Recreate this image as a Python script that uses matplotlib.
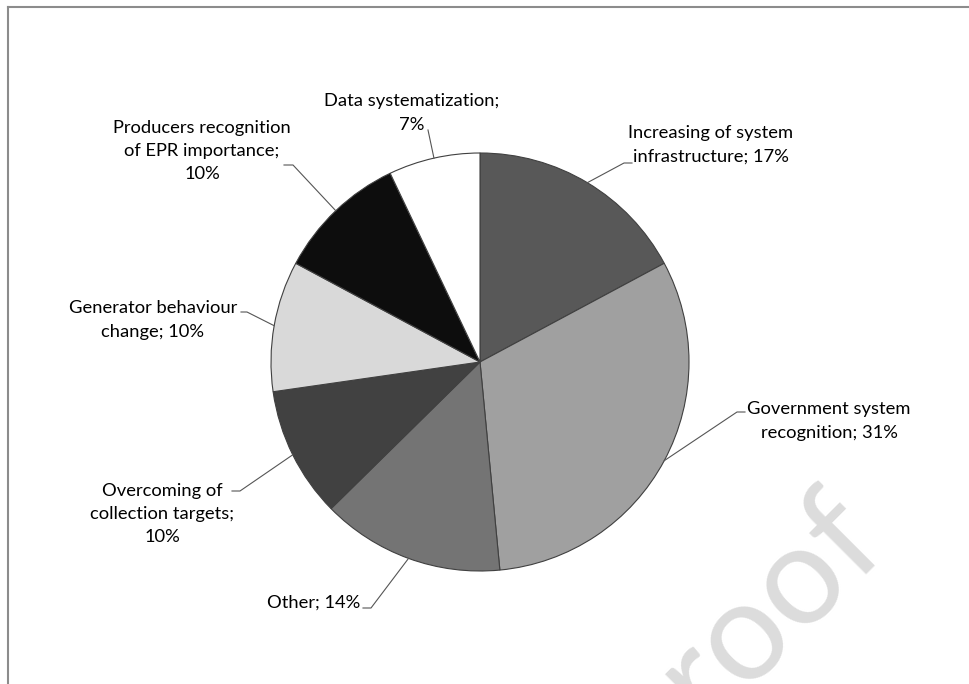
import matplotlib
matplotlib.use('Agg')
import matplotlib.pyplot as plt
import numpy as np
from matplotlib.lines import Line2D

# --- Data -------------------------------------------------------------------------------------------------------------
labels = ['Increasing of system\ninfrastructure', 'Government system\nrecognition', 'Other',
          'Overcoming of\ncollection targets;\n', 'Generator behaviour\nchange',
          'Producers recognition\nof EPR importance;\n', 'Data systematization;\n']
values = [17, 31, 14, 10, 10, 10, 7]
colors = ['#585858', '#a0a0a0', '#747474', '#414141', '#d9d9d9', '#0d0d0d', '#ffffff']

# label centre, leader elbow, leader end (pixels, y down)
label_pos = [(711, 145), (829, 421), (314, 603), (162, 514), (153, 320), (202, 151), (412, 113)]
elbows = [(624, 163), (737, 412), (371, 608), (240, 491), (247, 312), (293, 165), (428, 130)]
ends = [632, 745, 363, 232, 241, 284, 428]

W, H = 969, 684
cx, cy, r = 480, 362, 209

plt.rcParams['font.family'] = ['Lato', 'DejaVu Sans']

fig = plt.figure(figsize=(W / 100, H / 100), dpi=100)
ax = fig.add_axes([0, 0, 1, 1])

wedges, _ = ax.pie(values, colors=colors, startangle=90, counterclock=False,
                   center=(cx, H - cy), radius=r, frame=True,
                   wedgeprops=dict(edgecolor='#404040', linewidth=0.8))
ax.set_xlim(0, W)
ax.set_ylim(0, H)
ax.axis('off')

for w, lab, v, (tx, ty), (ex, ey), endx in zip(wedges, labels, values, label_pos, elbows, ends):
    mid = np.deg2rad((w.theta1 + w.theta2) / 2)
    px, py = cx + r * np.cos(mid), (H - cy) + r * np.sin(mid)
    ax.plot([px, ex, endx], [py, H - ey, H - ey], color='#555555', lw=0.8, zorder=3)
    sep = '' if lab.endswith('\n') else '; '
    ax.text(tx, H - ty, f'{lab}{sep}{v}%', ha='center', va='center', fontsize=13.2,
            linespacing=1.55, color='black', zorder=4)

# watermark
ax.text(888, H - 542, 'proof', rotation=45, rotation_mode='anchor', ha='right', va='baseline',
        fontsize=100, color='#dcdcdc', zorder=0)

# frame lines (top and left)
fig.add_artist(Line2D([8 / W, 8 / W], [0, 1 - 7 / H], transform=fig.transFigure, color='#8c8c8c', lw=1.5))
fig.add_artist(Line2D([8 / W, 1], [1 - 7 / H, 1 - 7 / H], transform=fig.transFigure, color='#8c8c8c', lw=1.5))

fig.savefig('out.png', dpi=100)
